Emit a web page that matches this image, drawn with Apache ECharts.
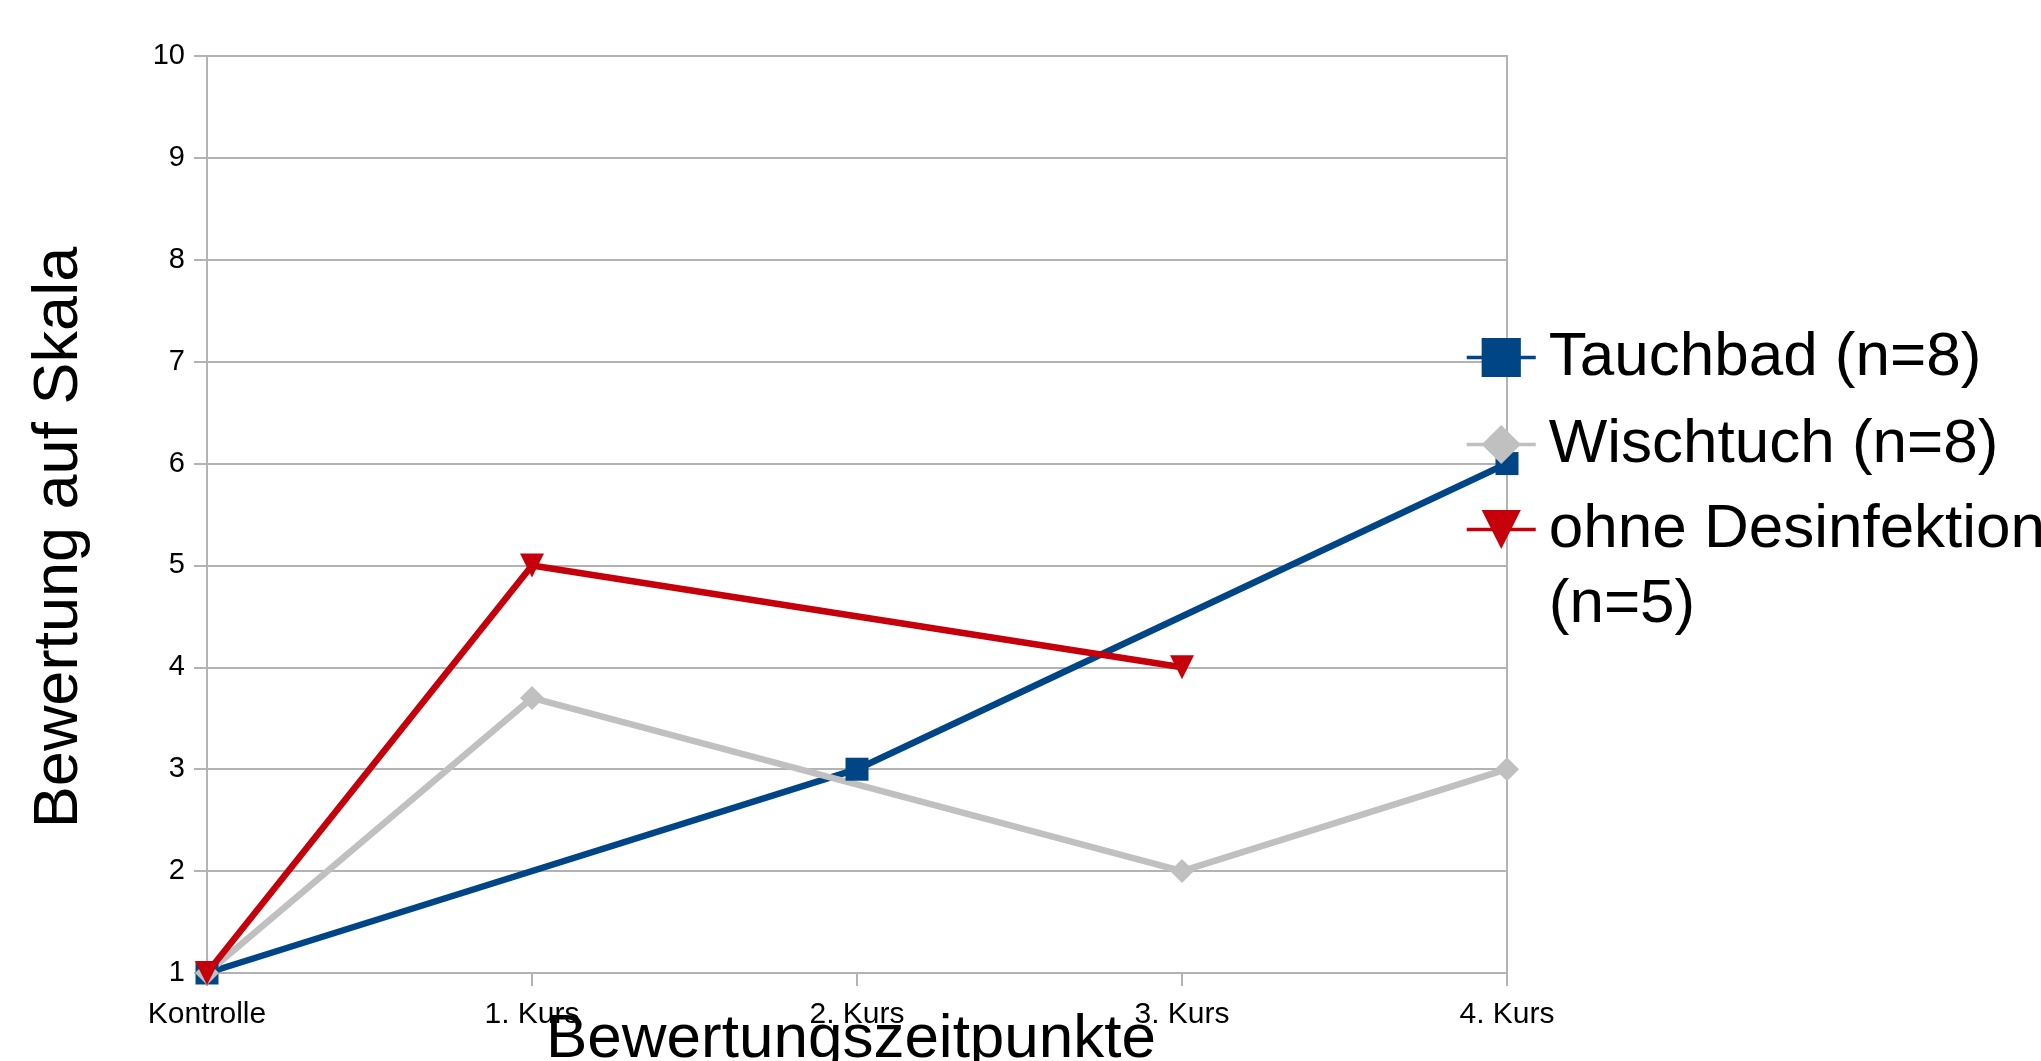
<!DOCTYPE html>
<html>
<head>
<meta charset="utf-8">
<title>Bewertung auf Skala</title>
<script src="https://cdn.jsdelivr.net/npm/echarts@6/dist/echarts.min.js"></script>
<style>
  html, body { margin: 0; padding: 0; background: #ffffff; }
  #chart { width: 2041px; height: 1061px; }
</style>
</head>
<body>
<div id="chart"></div>
<script>
// Assessment points on the x axis
const categories = ['Kontrolle', '1. Kurs', '2. Kurs', '3. Kurs', '4. Kurs'];

// Ratings per group (null = not assessed at that point)
const tauchbad = [1, null, 3, null, 6];
const wischtuch = [1, 3.7, null, 2, 3];
const ohneDesinfektion = [1, 5, null, 4, null];

// Value axis ticks
const yTicks = [1, 2, 3, 4, 5, 6, 7, 8, 9, 10];

const seriesNames = ['Tauchbad (n=8)', 'Wischtuch (n=8)', 'ohne Desinfektion (n=5)'];

const FONT = '"Liberation Sans", Arial, sans-serif';
const GRID_COLOR = '#b3b3b3';
const BIG = 62;
const LEGEND_LINE = 75;

// Shared legend look; the two-line entry gets its own legend block so its
// symbol sits beside the first text line.
const legendBase = {
  orient: 'vertical',
  left: 1465,
  padding: 0,
  itemWidth: 69,
  itemHeight: 49,
  itemGap: 12,
  lineStyle: { width: 3.5 },
  formatter: function (name) {
    return name === seriesNames[2] ? 'ohne Desinfektion\n(n=5)' : name;
  },
  textStyle: {
    fontFamily: FONT, fontSize: BIG, color: '#000000',
    lineHeight: LEGEND_LINE, padding: [0, 0, 0, 8]
  }
};

const chart = echarts.init(document.getElementById('chart'), null, { renderer: 'canvas' });

chart.setOption({
  backgroundColor: '#ffffff',
  animation: false,
  textStyle: { fontFamily: FONT, color: '#000000' },
  grid: {
    left: 207, right: 534, top: 56, bottom: 88,
    outerBoundsMode: 'none',
    containLabel: false,
    show: true, borderColor: GRID_COLOR, borderWidth: 2, backgroundColor: 'transparent'
  },
  legend: [
    Object.assign({}, legendBase, {
      top: 320,
      data: [seriesNames[0], seriesNames[1]]
    }),
    Object.assign({}, legendBase, {
      top: 417,
      data: [{
        name: seriesNames[2],
        textStyle: { rich: { t: {} }, padding: [LEGEND_LINE, 0, 0, 8] }
      }]
    })
  ],
  xAxis: {
    type: 'category',
    data: categories,
    boundaryGap: false,
    name: 'Bewertungszeitpunkte',
    nameLocation: 'middle',
    nameGap: 36,
    nameMoveOverlap: false,
    nameTextStyle: { fontFamily: FONT, fontSize: BIG, color: '#000000', padding: [0, 12, 0, 0] },
    axisLine: { show: true, lineStyle: { color: GRID_COLOR, width: 2 } },
    axisTick: { show: true, inside: false, length: 13, interval: 0, lineStyle: { color: GRID_COLOR, width: 2 } },
    axisLabel: { fontFamily: FONT, fontSize: 30, color: '#000000', margin: 27, interval: 0 },
    splitLine: { show: false }
  },
  yAxis: {
    type: 'value',
    min: yTicks[0],
    max: yTicks[yTicks.length - 1],
    interval: 1,
    name: 'Bewertung auf Skala',
    nameLocation: 'middle',
    nameGap: 116,
    nameMoveOverlap: false,
    nameTextStyle: { fontFamily: FONT, fontSize: 63, color: '#000000', padding: [0, 46, 0, 0] },
    axisLine: { show: true, lineStyle: { color: GRID_COLOR, width: 2 } },
    axisTick: { show: true, inside: false, length: 13, lineStyle: { color: GRID_COLOR, width: 2 } },
    axisLabel: { fontFamily: FONT, fontSize: 29, color: '#000000', margin: 22 },
    splitLine: { show: true, lineStyle: { color: GRID_COLOR, width: 2 } }
  },
  series: [
    {
      name: seriesNames[0],
      type: 'line',
      data: tauchbad,
      connectNulls: true,
      symbol: 'rect',
      symbolSize: 23,
      color: '#004586',
      lineStyle: { width: 6.5, color: '#004586' },
      itemStyle: { color: '#004586' }
    },
    {
      name: seriesNames[1],
      type: 'line',
      data: wischtuch,
      connectNulls: true,
      symbol: 'diamond',
      symbolSize: 24,
      color: '#c0c0c0',
      lineStyle: { width: 6.5, color: '#c0c0c0' },
      itemStyle: { color: '#c0c0c0' }
    },
    {
      name: seriesNames[2],
      type: 'line',
      data: ohneDesinfektion,
      connectNulls: true,
      symbol: 'triangle',
      symbolRotate: 180,
      symbolSize: [24, 24],
      color: '#c5000b',
      lineStyle: { width: 6.5, color: '#c5000b' },
      itemStyle: { color: '#c5000b' }
    }
  ]
});
</script>
</body>
</html>
